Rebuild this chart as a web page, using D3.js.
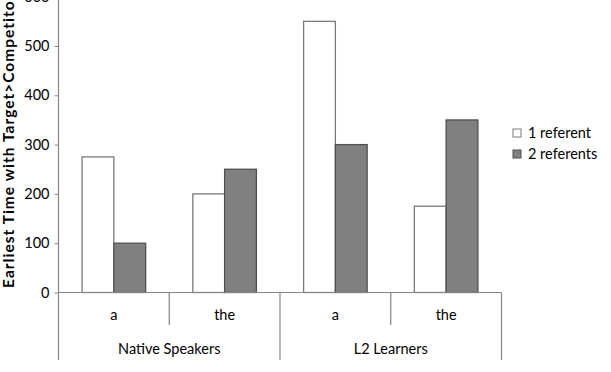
<!DOCTYPE html>
<html>
<head>
<meta charset="utf-8">
<script src="https://cdn.jsdelivr.net/npm/d3@7"></script>
<style>
  body { margin: 0; background: #fff; }
  svg text { font-family: Lato, "Open Sans", sans-serif; fill: #000; }
</style>
</head>
<body>
<svg id="vis" width="611" height="372"></svg>
<script>
// groups on the x axis, each split into two articles
var speakerGroups = ['Native Speakers', 'L2 Learners'];
var articles = ['a', 'the'];
var seriesNames = ['1 referent', '2 referents'];
var oneReferent = [275, 200, 550, 175];
var twoReferents = [100, 250, 300, 350];
var yTicks = [0, 100, 200, 300, 400, 500, 600];

var svg = d3.select('#vis');
var left = 58.5, right = 501.5, zeroY = 292.5;
var fs = 14.5;

// y scale: 100 units is about 49.3px
var y = d3.scaleLinear().domain([0, 600]).range([zeroY, zeroY - 6 * 49.3]);

// one cell per (group, article)
var cells = [];
speakerGroups.forEach(function (g) {
    articles.forEach(function (a) { cells.push(g + '|' + a); });
});
var x0 = d3.scaleBand().domain(cells).range([left, right]).padding(0);
var x1 = d3.scaleBand().domain(seriesNames)
    .range([x0.bandwidth() * 0.213, x0.bandwidth() * 0.787]).padding(0);
var xGroup = d3.scaleBand().domain(speakerGroups).range([left, right]).padding(0);

var rows = cells.map(function (c, i) {
    return { cell: c, values: [oneReferent[i], twoReferents[i]] };
});

// bars
var cellG = svg.selectAll('g.cell').data(rows).enter().append('g')
    .attr('class', 'cell')
    .attr('transform', function (d) { return 'translate(' + x0(d.cell) + ',0)'; });

cellG.selectAll('rect').data(function (d) {
    return d.values.map(function (v, i) { return { name: seriesNames[i], value: v }; });
}).enter().append('rect')
    .attr('x', function (d) { return x1(d.name); })
    .attr('width', x1.bandwidth())
    .attr('y', function (d) { return y(d.value); })
    .attr('height', function (d) { return zeroY - y(d.value); })
    .attr('fill', function (d) { return d.name === seriesNames[0] ? '#ffffff' : '#808080'; })
    .attr('stroke', function (d) { return d.name === seriesNames[0] ? '#7a7a7a' : '#505050'; })
    .attr('stroke-width', 1.3);

// y axis
var yAxis = d3.axisLeft(y).tickValues(yTicks).tickSize(4).tickPadding(5);
var yg = svg.append('g').attr('transform', 'translate(' + left + ',0)').call(yAxis);
yg.select('.domain').remove();
yg.selectAll('.tick line').attr('stroke', '#868686');
yg.selectAll('.tick text').attr('font-size', fs).attr('font-family', 'Lato, sans-serif');
svg.append('line').attr('x1', left).attr('x2', left)
    .attr('y1', 0).attr('y2', 360).attr('stroke', '#868686').attr('stroke-width', 1.2);

// x axis line
svg.append('line').attr('x1', left).attr('x2', right)
    .attr('y1', zeroY).attr('y2', zeroY).attr('stroke', '#868686').attr('stroke-width', 1.2);

// short dividers between articles, long ones between groups
cells.forEach(function (c, i) {
    var xe = x0(c) + x0.bandwidth();
    var isGroupEnd = (i % articles.length) === articles.length - 1;
    svg.append('line').attr('x1', xe).attr('x2', xe)
        .attr('y1', zeroY).attr('y2', isGroupEnd ? 360 : 325)
        .attr('stroke', '#868686').attr('stroke-width', 1.2);
});

svg.selectAll('text.article').data(cells).enter().append('text')
    .attr('class', 'article')
    .attr('x', function (c) { return x0(c) + x0.bandwidth() / 2; })
    .attr('y', 320)
    .attr('text-anchor', 'middle')
    .attr('font-size', fs)
    .text(function (c) { return c.split('|')[1]; });

svg.selectAll('text.group').data(speakerGroups).enter().append('text')
    .attr('class', 'group')
    .attr('x', function (g) { return xGroup(g) + xGroup.bandwidth() / 2; })
    .attr('y', 354)
    .attr('text-anchor', 'middle')
    .attr('font-size', fs)
    .text(function (g) { return g; });

// y axis title, cut off at the top like the original
var titleText = 'Earliest Time with Target>Competitor (ms)';
var title = svg.append('text')
    .attr('transform', 'translate(14,288) rotate(-90)')
    .attr('text-anchor', 'start')
    .attr('font-size', 15.5)
    .attr('font-weight', 'bold')
    .text(titleText);
// stretch so that "...Competito" reaches the top edge, as in the original
var visibleChars = 'Earliest Time with Target>Competito'.length;
var visibleLen = title.node().getSubStringLength(0, visibleChars);
title.attr('letter-spacing', ((288 - visibleLen) / visibleChars).toFixed(3));

// legend
var legend = svg.selectAll('g.legend').data(seriesNames).enter().append('g')
    .attr('class', 'legend')
    .attr('transform', function (d, i) { return 'translate(513,' + (129 + i * 21) + ')'; });
legend.append('rect').attr('width', 8).attr('height', 8)
    .attr('fill', function (d, i) { return i === 0 ? '#ffffff' : '#808080'; })
    .attr('stroke', function (d, i) { return i === 0 ? '#7a7a7a' : '#505050'; });
legend.append('text').attr('x', 15).attr('y', 9).attr('font-size', fs)
    .text(function (d) { return d; });
</script>
</body>
</html>
